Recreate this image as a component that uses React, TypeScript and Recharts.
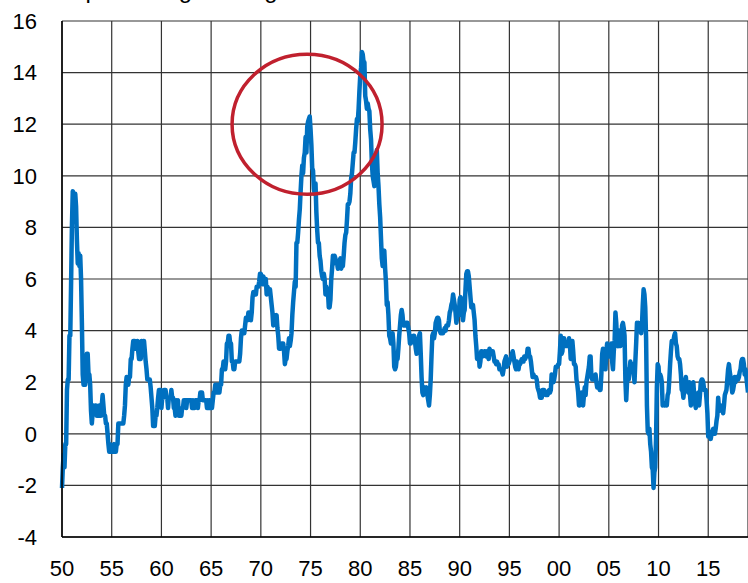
import React from "react";
import {
  LineChart,
  Line,
  XAxis,
  YAxis,
  CartesianGrid,
  ReferenceDot,
} from "recharts";

// monthly readings, Jan..Dec
const cpi1950s = [
  -2.1, -1.3, -0.8, -1.3, -0.4, -0.4, 1.7, 2.1, 2.1, 3.8, 3.8, 5.9,
  8.1, 9.4, 9.3, 9.3, 9.3, 8.8, 7.5, 6.6, 7.0, 6.5, 6.9, 6.0,
  4.3, 2.3, 1.9, 2.3, 1.9, 2.3, 3.1, 3.1, 2.3, 2.3, 1.9, 0.9,
  0.4, 0.8, 1.1, 0.8, 1.1, 1.1, 0.7, 0.7, 0.7, 1.1, 0.7, 0.7,
  1.1, 1.5, 1.1, 0.7, 0.7, 0.4, 0.4, 0.0, -0.4, -0.7, -0.4, -0.7,
  -0.7, -0.7, -0.7, -0.4, -0.7, -0.7, -0.4, -0.4, 0.4, 0.4, 0.4, 0.4,
  0.4, 0.4, 0.4, 0.7, 1.1, 1.9, 2.2, 1.9, 1.9, 2.2, 2.2, 2.9,
  2.9, 3.3, 3.6, 3.6, 3.6, 3.3, 3.3, 3.6, 3.2, 2.9, 3.2, 2.9,
  3.6, 3.2, 3.6, 3.6, 3.2, 2.8, 2.5, 2.1, 2.1, 2.1, 2.1, 1.8,
  1.4, 1.0, 0.3, 0.3, 0.3, 0.7, 0.7, 1.0, 1.4, 1.7, 1.7, 1.7,
];
const cpi1960s = [
  1.0, 1.4, 1.4, 1.7, 1.7, 1.7, 1.4, 1.4, 1.0, 1.4, 1.4, 1.4,
  1.7, 1.4, 1.4, 1.0, 1.0, 0.7, 1.3, 1.0, 1.3, 0.7, 0.7, 0.7,
  0.7, 1.0, 1.0, 1.3, 1.3, 1.3, 1.0, 1.3, 1.3, 1.3, 1.3, 1.3,
  1.3, 1.0, 1.3, 1.0, 1.0, 1.3, 1.3, 1.3, 1.0, 1.3, 1.3, 1.6,
  1.6, 1.6, 1.3, 1.3, 1.3, 1.3, 1.3, 1.0, 1.3, 1.0, 1.3, 1.0,
  1.0, 1.0, 1.3, 1.6, 1.6, 1.9, 1.6, 1.9, 1.6, 1.9, 1.6, 1.9,
  1.9, 2.5, 2.5, 2.8, 2.8, 2.5, 2.8, 3.5, 3.5, 3.8, 3.8, 3.5,
  3.5, 2.8, 2.8, 2.5, 2.5, 2.8, 2.8, 2.8, 2.8, 2.8, 2.8, 3.1,
  3.7, 4.0, 4.0, 3.9, 3.9, 4.2, 4.5, 4.4, 4.4, 4.7, 4.7, 4.7,
  4.4, 4.7, 5.3, 5.5, 5.5, 5.5, 5.4, 5.7, 5.7, 5.7, 5.9, 6.2,
];
const cpi1970s = [
  6.2, 6.1, 5.8, 6.1, 6.0, 6.0, 6.0, 5.4, 5.7, 5.6, 5.6, 5.6,
  5.3, 5.0, 4.7, 4.2, 4.4, 4.6, 4.4, 4.6, 4.1, 3.8, 3.3, 3.3,
  3.3, 3.5, 3.5, 3.5, 3.2, 2.7, 2.9, 2.9, 3.2, 3.4, 3.7, 3.4,
  3.6, 3.9, 4.6, 5.1, 5.5, 5.9, 5.7, 7.4, 7.4, 7.8, 8.3, 8.7,
  9.4, 10.0, 10.4, 10.1, 10.7, 10.9, 11.5, 10.9, 11.9, 12.1, 12.2, 12.3,
  11.8, 11.2, 10.3, 10.2, 9.5, 9.3, 9.7, 8.6, 7.9, 7.4, 7.4, 6.9,
  6.7, 6.3, 6.1, 6.0, 6.2, 6.0, 5.4, 5.7, 5.5, 5.5, 4.9, 4.9,
  5.2, 6.0, 6.4, 6.9, 6.7, 6.9, 6.8, 6.6, 6.6, 6.4, 6.7, 6.7,
  6.8, 6.4, 6.6, 6.5, 6.9, 7.4, 7.7, 7.8, 8.3, 8.9, 8.9, 9.0,
  9.3, 9.9, 10.1, 10.5, 10.9, 10.9, 11.3, 11.8, 12.2, 12.1, 12.6, 13.3,
];
const cpi1980s = [
  13.9, 14.2, 14.8, 14.7, 14.4, 14.4, 13.1, 12.9, 12.6, 12.8, 12.6, 12.5,
  11.8, 11.4, 10.5, 10.0, 9.8, 9.6, 10.8, 10.8, 11.0, 10.1, 9.6, 8.9,
  8.4, 7.6, 6.8, 6.5, 6.7, 7.1, 6.4, 5.9, 5.0, 5.1, 4.6, 3.8,
  3.7, 3.5, 3.6, 3.9, 3.5, 2.6, 2.5, 2.6, 2.9, 2.9, 3.3, 3.8,
  4.2, 4.6, 4.8, 4.6, 4.2, 4.2, 4.2, 4.3, 4.3, 4.3, 4.1, 3.9,
  3.5, 3.5, 3.7, 3.7, 3.8, 3.8, 3.6, 3.3, 3.1, 3.2, 3.5, 3.8,
  3.9, 3.1, 2.2, 1.6, 1.5, 1.8, 1.6, 1.6, 1.8, 1.5, 1.3, 1.1,
  1.5, 2.1, 3.0, 3.8, 3.9, 3.7, 3.9, 4.3, 4.4, 4.5, 4.5, 4.4,
  4.0, 3.9, 3.9, 3.9, 3.9, 4.0, 4.1, 4.0, 4.2, 4.2, 4.2, 4.4,
  4.7, 4.8, 5.0, 5.1, 5.4, 5.2, 5.0, 4.7, 4.3, 4.5, 4.7, 4.6,
];
const cpi1990s = [
  5.2, 5.3, 5.2, 4.7, 4.4, 4.7, 4.8, 5.6, 6.2, 6.3, 6.3, 6.1,
  5.7, 5.3, 4.9, 4.9, 5.0, 4.7, 4.4, 3.8, 3.4, 2.9, 3.0, 3.1,
  2.6, 2.8, 3.2, 3.2, 3.0, 3.1, 3.2, 3.1, 3.0, 3.2, 3.0, 2.9,
  3.3, 3.2, 3.1, 3.2, 3.2, 3.0, 2.8, 2.8, 2.7, 2.8, 2.7, 2.7,
  2.5, 2.5, 2.5, 2.4, 2.3, 2.5, 2.8, 2.9, 3.0, 2.6, 2.7, 2.7,
  2.8, 2.9, 2.9, 3.1, 3.2, 3.0, 2.8, 2.6, 2.5, 2.8, 2.6, 2.5,
  2.7, 2.7, 2.8, 2.9, 2.9, 2.8, 3.0, 2.9, 3.0, 3.0, 3.3, 3.3,
  3.0, 3.0, 2.8, 2.5, 2.2, 2.3, 2.2, 2.2, 2.2, 2.1, 1.8, 1.7,
  1.6, 1.4, 1.4, 1.4, 1.7, 1.7, 1.7, 1.6, 1.5, 1.5, 1.5, 1.6,
  1.7, 1.6, 1.7, 2.3, 2.1, 2.0, 2.1, 2.3, 2.6, 2.6, 2.6, 2.7,
];
const cpi2000s = [
  2.7, 3.2, 3.8, 3.1, 3.2, 3.7, 3.7, 3.4, 3.5, 3.4, 3.4, 3.4,
  3.7, 3.5, 2.9, 3.3, 3.6, 3.2, 2.7, 2.7, 2.6, 2.1, 1.9, 1.6,
  1.1, 1.1, 1.5, 1.6, 1.2, 1.1, 1.5, 1.8, 1.5, 2.0, 2.2, 2.4,
  2.6, 3.0, 3.0, 2.2, 2.1, 2.1, 2.1, 2.2, 2.3, 2.0, 1.8, 1.9,
  1.9, 1.7, 1.7, 2.3, 3.1, 3.3, 3.0, 2.7, 2.5, 3.2, 3.5, 3.3,
  3.0, 3.0, 3.1, 3.5, 2.8, 2.5, 3.2, 3.6, 4.7, 4.3, 3.5, 3.4,
  4.0, 3.6, 3.4, 3.5, 4.2, 4.3, 4.1, 3.8, 2.1, 1.3, 2.0, 2.5,
  2.1, 2.4, 2.8, 2.6, 2.7, 2.7, 2.4, 2.0, 2.8, 3.5, 4.3, 4.1,
  4.3, 4.0, 4.0, 3.9, 4.2, 5.0, 5.6, 5.4, 4.9, 3.7, 1.1, 0.1,
  0.0, 0.2, -0.4, -0.7, -1.3, -1.4, -2.1, -1.5, -1.3, -0.2, 1.8, 2.7,
];
const cpi2010s = [
  2.6, 2.1, 2.3, 2.2, 2.0, 1.1, 1.2, 1.1, 1.1, 1.2, 1.1, 1.5,
  1.6, 2.1, 2.7, 3.2, 3.6, 3.6, 3.6, 3.8, 3.9, 3.5, 3.4, 3.0,
  2.9, 2.9, 2.7, 2.3, 1.7, 1.7, 1.4, 1.7, 2.0, 2.2, 1.8, 1.7,
  1.6, 2.0, 1.5, 1.1, 1.4, 1.8, 2.0, 1.5, 1.2, 1.0, 1.2, 1.5,
  1.6, 1.1, 1.5, 2.0, 2.1, 2.1, 2.0, 1.7, 1.7, 1.7, 1.3, 0.8,
  -0.1, 0.0, -0.1, -0.2, 0.0, 0.1, 0.2, 0.2, 0.0, 0.2, 0.5, 0.7,
  1.4, 1.0, 0.9, 1.1, 1.0, 1.0, 0.8, 1.1, 1.5, 1.6, 1.7, 2.1,
  2.5, 2.7, 2.4, 2.2, 1.9, 1.6, 1.7, 1.9, 2.2, 2.0, 2.2, 2.1,
  2.1, 2.2, 2.4, 2.5, 2.8, 2.9, 2.9, 2.7, 2.3, 2.5, 2.2, 1.9,
  1.6,
];

const startYear = 1950;
const endYear = 2019;
const xTicks = [1950, 1955, 1960, 1965, 1970, 1975, 1980, 1985, 1990, 1995, 2000, 2005, 2010, 2015];
const xTickLabels = ["50", "55", "60", "65", "70", "75", "80", "85", "90", "95", "00", "05", "10", "15"];
const yTicks = [-4, -2, 0, 2, 4, 6, 8, 10, 12, 14, 16];

const title = "Annual percentage change";

// circled episode (mid-70s peak)
const circleAt = { x: 1974.65, y: 12 };

const data = [
  ...cpi1950s,
  ...cpi1960s,
  ...cpi1970s,
  ...cpi1980s,
  ...cpi1990s,
  ...cpi2000s,
  ...cpi2010s,
].map((v, i) => ({ t: startYear + i / 12, v }));

const FONT = "'Liberation Sans', Arial, sans-serif";
const tickStyle = { fontSize: 22, fill: "#000", fontFamily: FONT };

const Ellipse = (props: any) => (
  <ellipse
    cx={props.cx}
    cy={props.cy}
    rx={75}
    ry={70}
    fill="none"
    stroke="#C0202E"
    strokeWidth={3.5}
  />
);

export default function App() {
  return (
    <div
      style={{
        position: "absolute",
        left: 0,
        top: 0,
        width: 748,
        height: 583,
        background: "#fff",
        overflow: "hidden",
      }}
    >
      <div
        style={{
          position: "absolute",
          left: 4,
          top: -22,
          fontFamily: FONT,
          fontSize: 24,
          lineHeight: "24px",
          whiteSpace: "nowrap",
          color: "#000",
        }}
      >
        {title}
      </div>
      <LineChart
        width={748}
        height={583}
        data={data}
        margin={{ top: 21, right: 0, bottom: 0, left: 0 }}
      >
        <CartesianGrid stroke="#333" strokeWidth={1.2} />
        <XAxis
          type="number"
          dataKey="t"
          domain={[startYear, endYear]}
          ticks={xTicks}
          interval={0}
          tickFormatter={(t: number) => xTickLabels[xTicks.indexOf(t)]}
          height={46}
          tickSize={0}
          tickMargin={23}
          tick={tickStyle}
          axisLine={{ stroke: "#000", strokeWidth: 1.5 }}
          tickLine={false}
        />
        <YAxis
          type="number"
          domain={[-4, 16]}
          ticks={yTicks}
          interval={0}
          width={62}
          tickSize={0}
          tickMargin={25}
          tick={tickStyle}
          axisLine={{ stroke: "#000", strokeWidth: 1.5 }}
          tickLine={false}
        />
        <Line
          type="linear"
          dataKey="v"
          stroke="#0070C0"
          strokeWidth={4.5}
          strokeLinejoin="round"
          dot={false}
          activeDot={false}
          isAnimationActive={false}
        />
        <ReferenceDot x={circleAt.x} y={circleAt.y} r={70} shape={Ellipse} />
      </LineChart>
    </div>
  );
}
